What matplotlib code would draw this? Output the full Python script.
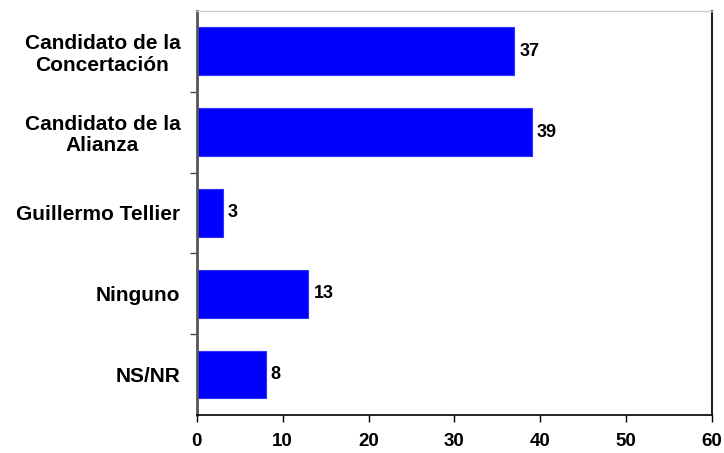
import numpy as np
from matplotlib import pyplot as plt
import matplotlib

matplotlib.rcParams['font.family'] = ['Liberation Sans', 'DejaVu Sans']
matplotlib.rcParams['font.weight'] = 'bold'

categorias = ['Candidato de la\nConcertación', 'Candidato de la\nAlianza',
              'Guillermo Tellier', 'Ninguno', 'NS/NR']
valores = [37, 39, 3, 13, 8]
ticks_x = [0, 10, 20, 30, 40, 50, 60]

fig = plt.figure(figsize=(7.24, 4.53), dpi=100)
ax = fig.add_axes([0.272, 0.084, 0.711, 0.892])

pos = np.arange(len(categorias))
ax.barh(pos, valores, height=0.59, color='#0000ff', edgecolor='#3030ff', linewidth=0.8)
for p, v in zip(pos, valores):
    ax.text(v + 0.6, p, str(v), va='center', ha='left', fontsize=13, fontweight='bold')

ax.set_xlim(0, 60)
ax.set_ylim(4.5, -0.5)
ax.set_xticks(ticks_x)
ax.set_xticklabels([str(t) for t in ticks_x], fontsize=13.5)
ax.set_yticks(pos)
ax.set_yticklabels(categorias, fontsize=15, ha='right', multialignment='center', linespacing=1.15)
ax.tick_params(axis='y', length=0, pad=12)
ax.set_yticks(np.arange(0.5, 4.5, 1), minor=True)
ax.tick_params(axis='y', which='minor', length=5, width=1, color='#444444', direction='out')
ax.tick_params(axis='x', length=5, width=1, direction='out', pad=8)

ax.spines['left'].set_color('#555555')
ax.spines['left'].set_linewidth(2)
ax.spines['bottom'].set_color('black')
ax.spines['bottom'].set_linewidth(1.2)
ax.spines['top'].set_color('#cccccc')
ax.spines['top'].set_linewidth(1)
ax.spines['right'].set_color('#222222')
ax.spines['right'].set_linewidth(1.5)

plt.savefig('out.png', dpi=100)
